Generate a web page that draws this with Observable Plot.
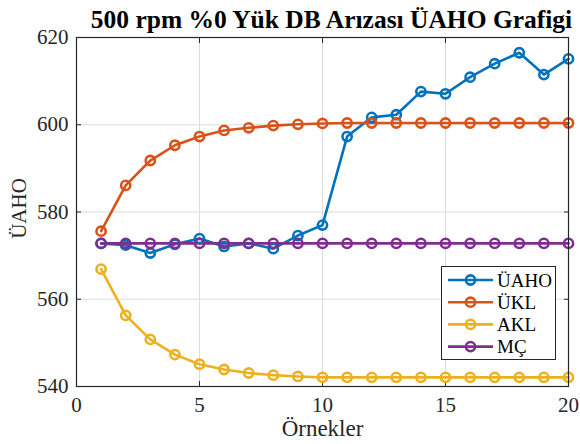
<!DOCTYPE html>
<html><head><meta charset="utf-8">
<script src="https://cdn.jsdelivr.net/npm/d3@7"></script>
<script src="https://cdn.jsdelivr.net/npm/@observablehq/plot@0.6"></script>
<style>
body{margin:0;background:#fff;}
#wrap{position:relative;width:580px;height:444px;}
svg, svg text{font-family:"Liberation Serif","Times New Roman",serif !important;}
g[aria-label="x-axis tick label"] text, g[aria-label="y-axis tick label"] text{font-size:21px !important;}
</style></head>
<body><div id="wrap"></div>
<script>
const samples = [1,2,3,4,5,6,7,8,9,10,11,12,13,14,15,16,17,18,19,20];
const seriesNames = ["ÜAHO","ÜKL","AKL","MÇ"];
const seriesColors = ["#0072BD","#D95319","#EDB120","#7E2F8E"];
const uaho = [572.8,572.4,570.6,572.6,573.9,572.1,572.8,571.6,574.6,577.0,597.3,601.7,602.3,607.6,607.1,610.9,614.0,616.5,611.5,615.1];
const ukl  = [575.6,586.1,591.8,595.3,597.3,598.7,599.3,599.8,600.1,600.3,600.4,600.4,600.4,600.4,600.4,600.4,600.4,600.4,600.4,600.4];
const akl  = [566.9,556.3,550.8,547.3,545.1,543.9,543.1,542.6,542.3,542.1,542.1,542.1,542.1,542.1,542.1,542.1,542.1,542.1,542.1,542.1];
const mc   = [572.8,572.8,572.8,572.8,572.8,572.8,572.8,572.8,572.8,572.8,572.8,572.8,572.8,572.8,572.8,572.8,572.8,572.8,572.8,572.8];
const xTicks = [0,5,10,15,20];
const yTicks = [540,560,580,600,620];
const titleText = "500 rpm %0 Yük DB Arızası ÜAHO Grafigi";
const xLabel = "Örnekler";
const yLabel = "ÜAHO";

const allSeries = [uaho, ukl, akl, mc];
const data = [];
allSeries.forEach((vals, i) => vals.forEach((v, j) => data.push({x: samples[j], y: v, s: seriesNames[i]})));

const serif = '"Liberation Serif","Times New Roman",serif';
const axisColor = "#262626";
const plot = Plot.plot({
  width: 580, height: 444,
  marginTop: 37, marginLeft: 76, marginRight: 12, marginBottom: 58,
  style: {fontFamily: serif, fontSize: "21px", color: axisColor, background: "#fff"},
  x: {domain: [0, 20]},
  y: {domain: [540, 620]},
  color: {domain: seriesNames, range: seriesColors},
  marks: [
    Plot.gridX(xTicks, {stroke: "#dcdcdc", strokeOpacity: 1, strokeWidth: 1}),
    Plot.gridY(yTicks, {stroke: "#dcdcdc", strokeOpacity: 1, strokeWidth: 1}),
    Plot.axisX(xTicks, {anchor: "bottom", tickSize: -5, tickPadding: 16, stroke: axisColor, fill: axisColor, fontSize: 21, fontFamily: serif, label: null}),
    Plot.axisX(xTicks, {anchor: "top", tickSize: -5, tickFormat: () => "", stroke: axisColor, label: null}),
    Plot.axisY(yTicks, {anchor: "left", tickSize: -5, tickPadding: 13, stroke: axisColor, fill: axisColor, fontSize: 21, fontFamily: serif, label: null}),
    Plot.axisY(yTicks, {anchor: "right", tickSize: -5, tickFormat: () => "", stroke: axisColor, label: null}),
    Plot.line(data, {x: "x", y: "y", z: "s", stroke: "s", strokeWidth: 2.6}),
    Plot.dot(data, {x: "x", y: "y", stroke: "s", fill: "none", r: 4.6, strokeWidth: 2.6}),
    Plot.frame({stroke: axisColor, strokeWidth: 1.2}),
    Plot.text([titleText], {frameAnchor: "top", lineAnchor: "middle", textAnchor: "middle", dx: 9, dy: -18, fontWeight: "bold", fontSize: 25.5, fontFamily: serif, fill: "#000"}),
    Plot.text([xLabel], {frameAnchor: "bottom", lineAnchor: "middle", textAnchor: "middle", dy: 42, fontSize: 23, fontFamily: serif, fill: axisColor}),
    Plot.text([yLabel], {frameAnchor: "left", lineAnchor: "middle", textAnchor: "middle", dx: -57, dy: -3.5, rotate: -90, fontSize: 21, fontFamily: serif, fill: axisColor})
  ]
});
document.getElementById("wrap").appendChild(plot);

// legend overlay
const lg = d3.select("#wrap").append("svg")
  .attr("width", 116).attr("height", 95)
  .style("position", "absolute").style("left", "441px").style("top", "266px");
lg.append("rect").attr("x", 0.5).attr("y", 0.5).attr("width", 114).attr("height", 93)
  .attr("fill", "#fff").attr("stroke", axisColor).attr("stroke-width", 1);
seriesNames.forEach((name, i) => {
  const cy = 14 + i * 22.2;
  lg.append("line").attr("x1", 7).attr("x2", 52).attr("y1", cy).attr("y2", cy)
    .attr("stroke", seriesColors[i]).attr("stroke-width", 2.6);
  lg.append("circle").attr("cx", 29.5).attr("cy", cy).attr("r", 4.6)
    .attr("fill", "none").attr("stroke", seriesColors[i]).attr("stroke-width", 2.6);
  lg.append("text").attr("x", 56).attr("y", cy).attr("dy", "0.35em")
    .attr("font-size", 19).attr("fill", "#000").text(name);
});
</script></body></html>
